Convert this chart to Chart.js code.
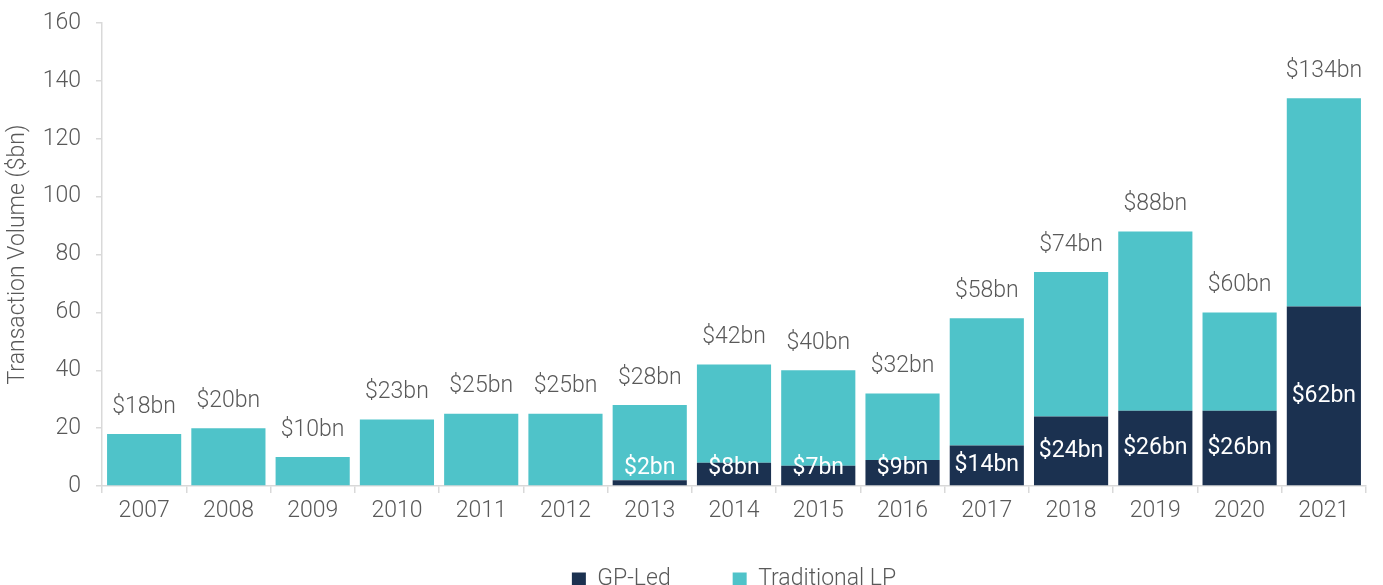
<!DOCTYPE html>
<html>
<head>
<meta charset="utf-8">
<script src="https://cdn.jsdelivr.net/npm/chart.js@4.4.0/dist/chart.umd.min.js"></script>
<style>
  html, body { margin: 0; padding: 0; background: #fff; overflow: hidden; }
  #wrap { width: 1383px; height: 621px; position: relative; }
</style>
</head>
<body>
<div id="wrap"><canvas id="chart"></canvas></div>
<script>
// values (USD bn)
const years = ['2007','2008','2009','2010','2011','2012','2013','2014','2015','2016','2017','2018','2019','2020','2021'];
const gpLed = [0, 0, 0, 0, 0, 0, 2, 8, 7, 9, 14, 24, 26, 26, 62];
const totals = [18, 20, 10, 23, 25, 25, 28, 42, 40, 32, 58, 74, 88, 60, 134];
const tradLp = totals.map((t, i) => t - gpLed[i]);
const yTicks = [0, 20, 40, 60, 80, 100, 120, 140, 160];

const NAVY = '#1b3150';
const TEAL = '#4fc3c9';
const GREY = '#595959';
const FONT = 'Roboto, "Noto Sans", sans-serif';
const FS = 23;

// draws totals above each stack and GP-Led values inside the dark segment
const barLabels = {
	id: 'barLabels',
	afterDatasetsDraw(chart){
		const ctx = chart.ctx;
		const gpMeta = chart.getDatasetMeta(0);
		const lpMeta = chart.getDatasetMeta(1);
		const zeroY = chart.scales.y.getPixelForValue(0);
		ctx.save();
		ctx.font = '300 ' + FS + 'px ' + FONT;
		ctx.textAlign = 'center';
		ctx.textBaseline = 'middle';
		lpMeta.data.forEach((bar, i) => {
			ctx.fillStyle = GREY;
			ctx.fillText('$' + totals[i] + 'bn', bar.x, bar.y - 27);
		});
		ctx.font = '400 ' + FS + 'px ' + FONT;
		gpMeta.data.forEach((bar, i) => {
			if(!gpLed[i]) return;
			const mid = (bar.y + zeroY) / 2;
			ctx.fillStyle = '#ffffff';
			ctx.fillText('$' + gpLed[i] + 'bn', bar.x, Math.min(mid, zeroY - 18));
		});
		ctx.restore();
	}
};

// legend sits a little higher than its box, so the wide item gap does not push it down
const legendNudge = {
	id: 'legendNudge',
	afterLayout(chart){
		const lg = chart.legend;
		if(!lg) return;
		lg.top -= 20;
		lg.bottom -= 20;
	}
};

new Chart(document.getElementById('chart'), {
	type: 'bar',
	data: {
		labels: years,
		datasets: [
			{ label: 'GP-Led', data: gpLed, backgroundColor: NAVY, stack: 's' },
			{ label: 'Traditional LP', data: tradLp, backgroundColor: TEAL, stack: 's' }
		]
	},
	options: {
		responsive: true,
		maintainAspectRatio: false,
		animation: false,
		datasets: { bar: { categoryPercentage: 1, barPercentage: 0.88 } },
		layout: { padding: { top: 12, right: 17, left: 0, bottom: 0 } },
		plugins: {
			tooltip: { enabled: false },
			legend: {
				position: 'bottom',
				fullSize: false,
				labels: {
					color: GREY,
					font: { family: FONT, size: FS, weight: '300' },
					boxWidth: 14, boxHeight: 14,
					padding: 62
				}
			}
		},
		scales: {
			x: {
				stacked: true,
				afterFit: (s) => { s.height = 40; },
				grid: { display: true, drawOnChartArea: false, tickLength: 7, color: '#d9d9d9', lineWidth: 1.5, offset: true },
				border: { color: '#d9d9d9', width: 1.5 },
				ticks: { color: GREY, font: { family: FONT, size: FS, weight: '300' }, padding: 4 }
			},
			y: {
				stacked: true,
				min: 0, max: 160,
				afterFit: (s) => { s.width = 102; },
				afterBuildTicks: (s) => { s.ticks = yTicks.map(v => ({ value: v })); },
				grid: { display: true, drawOnChartArea: false, tickLength: 6, color: '#d9d9d9', lineWidth: 1.5 },
				border: { color: '#d9d9d9', width: 1.5 },
				ticks: { color: GREY, font: { family: FONT, size: FS, weight: '300', lineHeight: 0.7 }, padding: 15 },
				title: { display: true, text: 'Transaction Volume ($bn)', color: GREY, font: { family: FONT, size: FS, weight: '300' }, padding: 4 }
			}
		}
	},
	plugins: [barLabels, legendNudge]
});
</script>
</body>
</html>
